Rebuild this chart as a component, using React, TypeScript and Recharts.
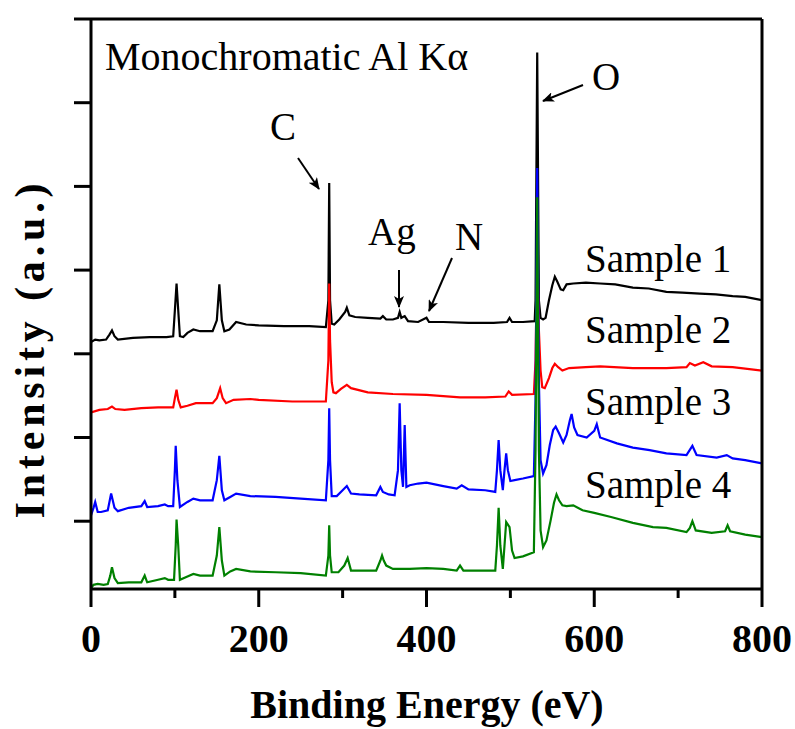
import React from 'react';
import { LineChart, Line, XAxis, YAxis } from 'recharts';

// XPS survey spectra, offset vertically (arbitrary units)
const energyTicks = [0, 100, 200, 300, 400, 500, 600, 700, 800];
const intensityTicks = [0, 100, 200, 300, 400, 500, 600];
const sampleNames = ['Sample 1', 'Sample 2', 'Sample 3', 'Sample 4'];
const sampleColors = ['#000000', '#ff0000', '#0000ff', '#008000'];

// [binding energy (eV), intensity]
const sample1: [number, number][] = [
  [0, 214], [5, 217], [10, 216], [18, 217], [22, 223], [25, 228], [28, 221], [32, 217],
  [50, 219], [70, 220], [90, 220], [98, 221], [100, 252], [102, 284], [104, 252], [106, 221],
  [110, 220], [115, 225], [122, 229], [130, 227], [145, 227], [150, 240], [153, 283], [156, 240],
  [159, 227], [165, 229], [173, 238], [185, 235], [200, 234], [230, 233], [260, 233], [280, 232],
  [283, 264], [284, 404], [285, 264], [287, 236], [290, 235], [296, 241], [303, 250], [305, 255],
  [308, 246], [315, 244], [330, 243], [345, 242], [348, 245], [352, 241], [360, 241], [366, 243],
  [368, 250], [370, 243], [374, 245], [378, 239], [390, 238], [400, 243], [403, 238], [420, 238],
  [450, 237], [480, 237], [496, 238], [499, 243], [502, 238], [515, 238], [529, 239], [530, 264],
  [532, 560], [534, 264], [536, 243], [539, 241], [542, 243], [546, 264], [550, 282], [553, 292],
  [556, 286], [560, 277], [563, 276], [567, 283], [575, 284], [590, 285], [607, 284], [625, 283],
  [646, 279], [665, 278], [686, 274], [705, 273], [726, 272], [745, 271], [765, 269], [780, 268],
  [800, 264],
];

const sample2: [number, number][] = [
  [0, 130], [10, 133], [20, 134], [25, 137], [29, 134], [40, 133], [60, 135], [80, 136],
  [98, 136], [100, 147], [102, 157], [104, 145], [107, 136], [115, 138], [125, 141], [145, 141],
  [150, 147], [154, 159], [157, 147], [161, 141], [170, 145], [190, 146], [200, 145], [240, 143],
  [280, 143], [283, 192], [284, 284], [285, 216], [287, 166], [289, 154], [292, 153], [298, 158],
  [305, 163], [310, 159], [330, 154], [360, 152], [400, 151], [440, 148], [470, 148], [494, 149],
  [498, 155], [502, 151], [528, 152], [530, 192], [532, 324], [534, 228], [536, 180], [538, 160],
  [541, 159], [546, 171], [550, 183], [553, 188], [557, 184], [562, 180], [570, 183], [590, 184],
  [607, 185], [646, 183], [686, 183], [710, 184], [714, 189], [720, 186], [730, 190], [740, 185],
  [765, 184], [800, 180],
];

const sample3: [number, number][] = [
  [0, 7], [3, 16], [5, 23], [8, 11], [12, 11], [20, 13], [24, 33], [28, 16],
  [32, 12], [45, 16], [60, 18], [64, 24], [67, 17], [80, 18], [88, 20], [92, 18],
  [98, 18], [100, 61], [101, 90], [103, 49], [106, 17], [115, 23], [122, 27], [130, 25],
  [145, 25], [150, 49], [153, 78], [156, 37], [159, 25], [166, 29], [173, 33], [190, 30],
  [220, 29], [250, 27], [280, 25], [283, 73], [284, 135], [285, 73], [287, 30], [293, 30],
  [300, 37], [305, 42], [310, 33], [320, 32], [340, 31], [345, 41], [348, 35], [355, 32],
  [362, 31], [366, 61], [368, 141], [370, 61], [372, 41], [374, 115], [376, 41], [380, 43],
  [390, 45], [400, 46], [420, 42], [436, 39], [442, 43], [450, 38], [470, 37], [482, 35],
  [484, 61], [486, 97], [488, 61], [491, 37], [493, 61], [495, 81], [497, 61], [500, 48],
  [505, 49], [515, 51], [528, 54], [530, 145], [532, 422], [534, 168], [536, 73], [539, 57],
  [543, 67], [547, 91], [551, 109], [554, 113], [558, 105], [563, 94], [567, 103], [571, 121],
  [573, 128], [576, 112], [580, 103], [591, 100], [600, 108], [603, 116], [607, 100], [627, 93],
  [646, 88], [666, 85], [686, 81], [710, 79], [717, 90], [722, 79], [746, 76], [758, 79],
  [765, 75], [780, 73], [800, 69],
];

const sample4: [number, number][] = [
  [0, -80], [3, -76], [8, -75], [15, -76], [20, -75], [23, -65], [25, -55], [28, -68],
  [32, -74], [45, -73], [60, -73], [64, -65], [67, -73], [80, -70], [88, -68], [92, -70],
  [99, -70], [101, -29], [102, 2], [104, -29], [106, -70], [115, -66], [122, -63], [130, -65],
  [145, -65], [150, -41], [153, -7], [156, -47], [159, -65], [166, -60], [173, -57], [190, -60],
  [220, -61], [250, -62], [280, -65], [283, -41], [284, -5], [285, -41], [287, -61], [295, -61],
  [302, -53], [306, -44], [310, -59], [320, -59], [340, -59], [345, -47], [347, -41], [349, -47],
  [352, -53], [360, -57], [380, -57], [400, -56], [420, -57], [436, -59], [440, -53], [444, -59],
  [470, -59], [482, -59], [484, -29], [486, 16], [488, -29], [491, -57], [493, -29], [495, -1],
  [499, -7], [502, -35], [505, -44], [515, -42], [528, -37], [530, 85], [532, 387], [534, 85],
  [536, -11], [539, -31], [543, -23], [548, 1], [552, 22], [555, 32], [558, 25], [562, 19],
  [567, 18], [575, 19], [586, 13], [600, 10], [620, 5], [646, -2], [670, -7], [686, -8],
  [710, -13], [714, -8], [717, 0], [721, -11], [740, -14], [756, -12], [759, -5], [762, -12],
  [780, -16], [800, -19],
];

const serif = '"Liberation Serif", "Times New Roman", serif';

const toPoints = (arr: [number, number][]) => arr.map(([x, y]) => ({ x, y }));
const allSamples = [sample1, sample2, sample3, sample4];

const EnergyTick = (props: any) => {
  const { x, y, payload } = props;
  const major = payload.value % 200 === 0;
  return (
    <g>
      <line x1={x} y1={y} x2={x} y2={y + (major ? 18 : 9)} stroke="#000" strokeWidth={3} />
      {major && (
        <text x={x} y={y + 63} textAnchor="middle" fontFamily={serif} fontWeight="bold" fontSize={40} fill="#000">
          {payload.value}
        </text>
      )}
    </g>
  );
};

const IntensityTick = (props: any) => {
  const { x, y } = props;
  return <line x1={x - 17} y1={y} x2={x} y2={y} stroke="#000" strokeWidth={3} />;
};

const Label = ({ x, y, children, size = 39 }: any) => (
  <text x={x} y={y} fontFamily={serif} fontSize={size} fill="#000">
    {children}
  </text>
);

const Annotations = () => (
  <svg width={795} height={729} style={{ position: 'absolute', left: 0, top: 0, pointerEvents: 'none' }}>
    <defs>
      <marker id="head" viewBox="0 0 12 10" refX="11" refY="5" markerWidth="12" markerHeight="10" markerUnits="userSpaceOnUse" orient="auto">
        <path d="M0,0 L12,5 L0,10 L3,5 Z" fill="#000" />
      </marker>
    </defs>
    <Label x={105} y={70} size={40}>Monochromatic Al Kα</Label>
    <Label x={270} y={140}>C</Label>
    <Label x={368} y={245}>Ag</Label>
    <Label x={455} y={250}>N</Label>
    <Label x={592} y={90}>O</Label>
    {sampleNames.map((n, i) => (
      <Label key={n} x={585} y={[272, 343, 415, 498][i]}>{n}</Label>
    ))}
    <g stroke="#000" strokeWidth={2} markerEnd="url(#head)">
      <line x1={298} y1={158} x2={319} y2={189} />
      <line x1={399} y1={270} x2={399} y2={307} />
      <line x1={452} y1={258} x2={429} y2={311} />
      <line x1={583} y1={85} x2={543} y2={101} />
    </g>
    <text
      x={44}
      y={351}
      transform="rotate(-90 44 351)"
      textAnchor="middle"
      fontFamily={serif}
      fontWeight="bold"
      fontSize={42}
      textLength={335}
      lengthAdjust="spacing"
    >
      Intensity (a.u.)
    </text>
    <text x={427} y={718} textAnchor="middle" fontFamily={serif} fontWeight="bold" fontSize={40}>
      Binding Energy (eV)
    </text>
  </svg>
);

export default function App() {
  return (
    <div style={{ position: 'absolute', left: 0, top: 0, width: 795, height: 729, background: '#fff' }}>
      <LineChart width={795} height={729} margin={{ top: 18, right: 32, bottom: 139, left: 90 }}>
        <XAxis
          dataKey="x"
          type="number"
          domain={[0, 800]}
          ticks={energyTicks}
          height={1}
          tickSize={0}
          tickMargin={0}
          tickLine={false}
          tick={<EnergyTick />}
          axisLine={{ stroke: '#000', strokeWidth: 3 }}
          allowDataOverflow
        />
        <XAxis
          xAxisId="top"
          orientation="top"
          type="number"
          domain={[0, 800]}
          height={1}
          tick={false}
          tickLine={false}
          axisLine={{ stroke: '#000', strokeWidth: 3 }}
        />
        <YAxis
          type="number"
          domain={[-81, 600]}
          ticks={intensityTicks}
          width={1}
          tickSize={0}
          tickMargin={0}
          tickLine={false}
          tick={<IntensityTick />}
          axisLine={{ stroke: '#000', strokeWidth: 3 }}
          allowDataOverflow
        />
        <YAxis
          yAxisId="right"
          orientation="right"
          type="number"
          domain={[-81, 600]}
          width={1}
          tick={false}
          tickLine={false}
          axisLine={{ stroke: '#000', strokeWidth: 3 }}
        />
        {allSamples.map((s, i) => (
          <Line
            key={sampleNames[i]}
            name={sampleNames[i]}
            data={toPoints(s)}
            dataKey="y"
            type="linear"
            stroke={sampleColors[i]}
            strokeWidth={2.2}
            dot={false}
            isAnimationActive={false}
          />
        ))}
      </LineChart>
      <Annotations />
    </div>
  );
}
